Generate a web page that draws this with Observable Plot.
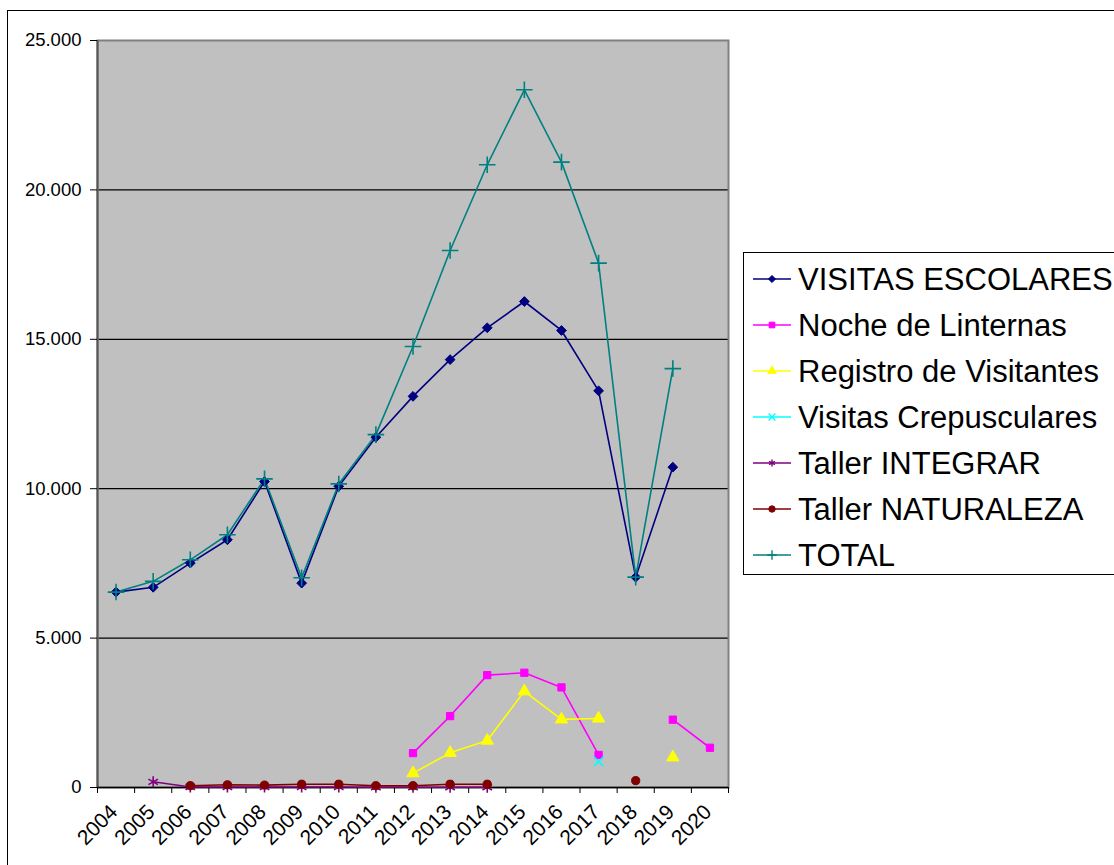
<!DOCTYPE html>
<html>
<head>
<meta charset="utf-8">
<script src="https://cdn.jsdelivr.net/npm/d3@7"></script>
<script src="https://cdn.jsdelivr.net/npm/@observablehq/plot@0.6"></script>
<style>
  html, body { margin: 0; padding: 0; background: #fff; }
  body { width: 1114px; height: 865px; overflow: hidden; position: relative; font-family: "Liberation Sans", Arial, sans-serif; }
  #frame { position: absolute; left: 7px; top: 10px; width: 1200px; height: 1000px; border: 1px solid #000; box-sizing: border-box; }
  #chart { position: absolute; left: 0; top: 0; }
  #legend { position: absolute; left: 743px; top: 252px; width: 400px; height: 323px; border: 1px solid #000; box-sizing: border-box; background: #fff; }
  .row { position: absolute; left: 0; height: 46px; display: flex; align-items: center; }
  .row svg { margin-left: 9px; }
  .row span { font-size: 31px; margin-left: 7px; color: #000; white-space: nowrap; line-height: 1; }
</style>
</head>
<body>
<div id="frame"></div>
<div id="chart"></div>
<div id="legend"></div>
<script>
// ---- data ----
const years = [2004, 2005, 2006, 2007, 2008, 2009, 2010, 2011, 2012, 2013, 2014, 2015, 2016, 2017, 2018, 2019, 2020];
const seriesNames = ["VISITAS ESCOLARES", "Noche de Linternas", "Registro de Visitantes", "Visitas Crepusculares", "Taller INTEGRAR", "Taller NATURALEZA", "TOTAL"];
const visitasEscolares = [6540, 6700, 7510, 8290, 10240, 6840, 10080, 11720, 13090, 14320, 15385, 16265, 15295, 13275, 7040, 10720, null];
const nocheLinternas = [null, null, null, null, null, null, null, null, 1150, 2390, 3760, 3840, 3350, 1090, null, 2270, 1330];
const registroVisitantes = [null, null, null, null, null, null, null, null, 480, 1160, 1570, 3220, 2280, 2310, null, 1010, null];
const visitasCrepusculares = [null, null, null, null, null, null, null, null, null, null, null, null, null, 870, null, null, null];
const tallerIntegrar = [null, 190, 15, 15, 15, 15, 15, 10, 10, 10, 10, null, null, null, null, null, null];
const tallerNaturaleza = [null, null, 60, 90, 80, 110, 110, 60, 60, 110, 110, null, null, null, 230, null, null];
const total = [6540, 6900, 7620, 8460, 10330, 7020, 10160, 11810, 14760, 17970, 20840, 23350, 20930, 17550, 7040, 14020, null];
const yTicks = [0, 5000, 10000, 15000, 20000, 25000];

const seriesValues = [visitasEscolares, nocheLinternas, registroVisitantes, visitasCrepusculares, tallerIntegrar, tallerNaturaleza, total];
const seriesColors = ["#000080", "#ff00ff", "#ffff00", "#00ffff", "#800080", "#800000", "#008080"];
const seriesSymbols = ["diamond2", "square", "triangle", "times", "asterisk", "circle", "plus"];
const seriesFilled = [true, true, true, false, false, true, false];
const seriesR = [4.4, 4.1, 4.6, 4.4, 5.2, 4.1, 5.4];

const fmt = v => v === 0 ? "0" : d3.format(",")(v).replace(/,/g, ".");

const rows = (vals) => years.map((yr, i) => ({year: yr, value: vals[i] == null ? NaN : vals[i]}));

const marks = [
  Plot.frame({fill: "#c0c0c0", stroke: null}),
  Plot.ruleY(yTicks.filter(d => d > 0 && d < 25000), {stroke: "#000", strokeWidth: 1.2}),
  Plot.frame({stroke: "#808080", strokeWidth: 2, fill: null}),
  Plot.ruleX([2003.5], {stroke: "#555", strokeWidth: 2}),
  Plot.ruleY([0], {stroke: "#000", strokeWidth: 1.5}),
  Plot.axisY({ticks: yTicks, tickFormat: fmt, tickSize: 7, tickPadding: 9, fontSize: 18.5, stroke: "#000", label: null}),
  Plot.axisX({ticks: d3.range(2003.5, 2021, 1), tickSize: 6, tickFormat: () => "", label: null}),
  Plot.text(years, {x: d => d, y: () => 0, text: d => String(d), rotate: -45, textAnchor: "end", lineAnchor: "middle", fontSize: 21, dx: -2, dy: 21, fill: "#000"})
];

seriesValues.forEach((vals, k) => {
  const data = rows(vals);
  marks.push(Plot.line(data, {x: "year", y: "value", stroke: seriesColors[k], strokeWidth: 1.6}));
});
seriesValues.forEach((vals, k) => {
  const data = rows(vals).filter(d => !isNaN(d.value));
  marks.push(Plot.dot(data, {
    x: "year", y: "value", symbol: () => seriesSymbols[k], r: seriesR[k],
    fill: seriesFilled[k] ? seriesColors[k] : "none",
    stroke: seriesColors[k], strokeWidth: seriesFilled[k] ? 1 : 1.6
  }));
});

const chart = Plot.plot({
  width: 740,
  height: 865,
  marginLeft: 97,
  marginRight: 12,
  marginTop: 40,
  marginBottom: 78,
  style: {fontFamily: "'Liberation Sans', Arial, sans-serif", fontSize: "18px", color: "#000", background: "transparent", overflow: "visible"},
  x: {type: "linear", domain: [2003.5, 2020.5], axis: null},
  y: {domain: [0, 25000], axis: null},
  symbol: {type: "identity"},
  marks
});
document.getElementById("chart").appendChild(chart);

// ---- legend ----
const legend = document.getElementById("legend");
const symGen = {
  diamond2: d3.symbolDiamond2, square: d3.symbolSquare, triangle: d3.symbolTriangle,
  times: d3.symbolTimes, asterisk: d3.symbolAsterisk, circle: d3.symbolCircle, plus: d3.symbolPlus
};
seriesNames.forEach((name, k) => {
  const row = document.createElement("div");
  row.className = "row";
  row.style.top = (3 + k * 46) + "px";
  const c = seriesColors[k];
  const path = d3.symbol(symGen[seriesSymbols[k]], Math.PI * 3.2 * 3.2)();
  row.innerHTML = `<svg width="38" height="20" viewBox="0 0 38 20">
    <line x1="0" x2="38" y1="10" y2="10" stroke="${c}" stroke-width="1.6"/>
    <path d="${path}" transform="translate(19,10)" fill="${seriesFilled[k] ? c : "none"}" stroke="${c}" stroke-width="${seriesFilled[k] ? 1 : 1.4}"/>
  </svg><span>${name}</span>`;
  legend.appendChild(row);
});
</script>
</body>
</html>
